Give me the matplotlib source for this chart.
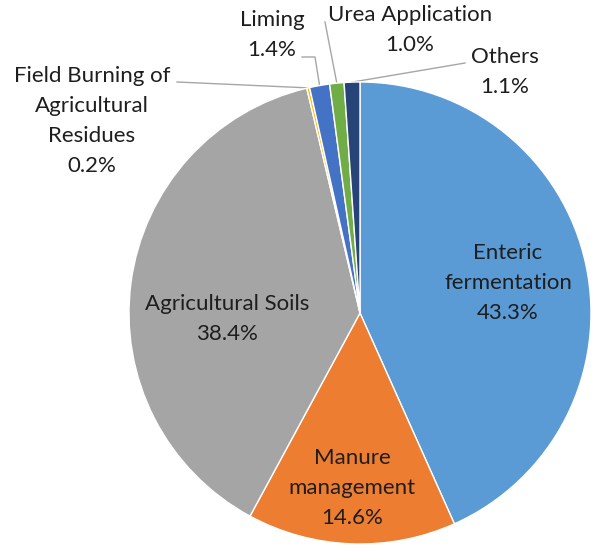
import numpy as np
import matplotlib
matplotlib.use("Agg")
import matplotlib.pyplot as plt

# shares of agricultural emissions, clockwise from 12 o'clock
labels = ["Enteric\nfermentation", "Manure\nmanagement", "Agricultural Soils",
          "Field Burning of\nAgricultural\nResidues", "Liming", "Urea Application", "Others"]
shares = [43.3, 14.6, 38.4, 0.2, 1.4, 1.0, 1.1]
colors = ["#5B9BD5", "#ED7D31", "#A5A5A5", "#FFC000", "#4472C4", "#70AD47", "#264478"]

# label placement in pixel space (y measured upwards)
label_pos = [(508, 270), (352, 65), (227, 234), (92, 432), (272, 518), (410, 523), (505, 481)]
# leader lines: polyline start points from label toward wedge
leader_pts = [None, None, None,
              [(177, 471)],
              [(302, 496), (315, 496)],
              [(325, 531)],
              [(465, 490)]]

W, H = 600, 553
CX, CY, R = 360, 240, 231

fig = plt.figure(figsize=(W / 100, H / 100), dpi=100)
ax = fig.add_axes([0, 0, 1, 1])

wedges, _ = ax.pie(shares, colors=colors, startangle=90, counterclock=False,
                   center=(CX, CY), radius=R,
                   wedgeprops=dict(edgecolor="white", linewidth=1.0))
ax.set_xlim(0, W)
ax.set_ylim(0, H)
ax.set_aspect("equal")
ax.axis("off")

txt = dict(family=["Lato", "DejaVu Sans"], fontsize=16, color="#1e1e1e",
           ha="center", va="center", linespacing=1.62)
for lab, val, (x, y) in zip(labels, shares, label_pos):
    ax.text(x, y, f"{lab}\n{val:.1f}%", **txt)

for w, pts in zip(wedges, leader_pts):
    if pts is None:
        continue
    mid = np.deg2rad((w.theta1 + w.theta2) / 2)
    end = (CX + R * np.cos(mid), CY + R * np.sin(mid))
    xs = [p[0] for p in pts] + [end[0]]
    ys = [p[1] for p in pts] + [end[1]]
    ax.plot(xs, ys, color="#A6A6A6", lw=1.0, zorder=0.5)

fig.savefig("out.png", dpi=100)
